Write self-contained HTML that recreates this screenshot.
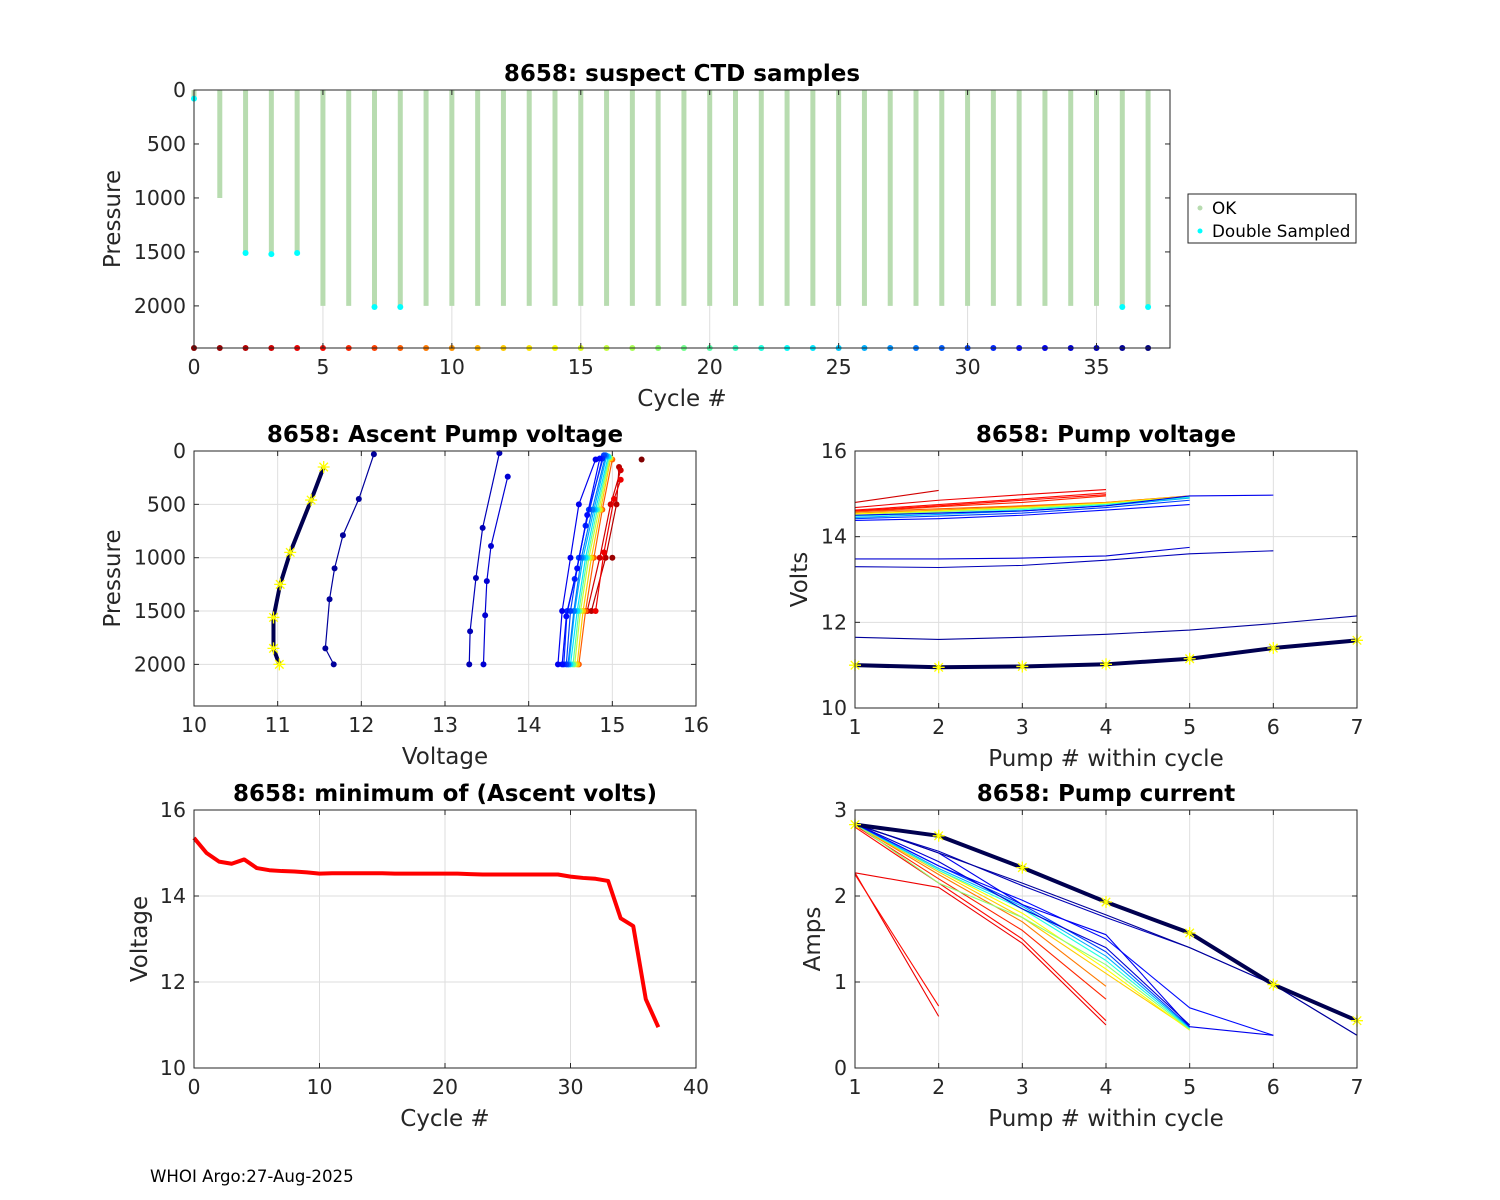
<!DOCTYPE html>
<html><head><meta charset="utf-8">
<style>
html,body{margin:0;padding:0;background:#fff;}
svg{display:block;font-family:"DejaVu Sans","Liberation Sans",sans-serif;}
</style></head>
<body>
<svg id="fig" width="1500" height="1200" viewBox="0 0 1500 1200" xmlns="http://www.w3.org/2000/svg">
<rect width="1500" height="1200" fill="#fff"/>
<text x="150" y="1182" font-size="16.6" fill="#000">WHOI Argo:27-Aug-2025</text>
</svg>
<script>
// ---------- data ----------
const cycles = Array.from({length:38},(_,i)=>i);
const maxPressure = [80,1000,1500,1500,1500,2000,2000,2000,2000,2000,2000,2000,2000,2000,2000,2000,2000,2000,2000,2000,2000,2000,2000,2000,2000,2000,2000,2000,2000,2000,2000,2000,2000,2000,2000,2000,2000,2000];
const doubleCycles = [0,2,3,4,7,8,36,37];
const doublePress = [80,1510,1520,1510,2010,2010,2010,2010];
const minVolts = [15.35,15.0,14.8,14.75,14.85,14.65,14.6,14.58,14.57,14.55,14.52,14.53,14.53,14.53,14.53,14.53,14.52,14.52,14.52,14.52,14.52,14.52,14.51,14.5,14.5,14.5,14.5,14.5,14.5,14.5,14.45,14.42,14.4,14.35,13.48,13.3,11.6,10.95];
const ascentCycles = [0,1,2,3,4,8,12,16,20,24,26,28,30,31,32,33,34,35,36,37];
const ascentPress = [
 [80],[1000],[1500,1000,500,150],[1500,1000,500,180],[1500,950,450,270],
 [2000,1500,1000,550,80],[2000,1500,1000,550,70],[2000,1500,1000,550,60],[2000,1500,1000,550,60],[2000,1500,1000,550,50],
 [2000,1500,1000,550,50],[2000,1500,1000,550,40],[2000,1500,1000,550,40],[2000,1500,1200,700,70],[2000,1550,1100,600,70],[2000,1500,1000,500,80],
 [2000,1540,1220,890,240],[2000,1690,1190,720,20],[2000,1850,1390,1100,790,450,30],[2000,1850,1560,1250,950,460,150]];
const ascentVolts = [
 [15.35],[15.0],[14.75,14.92,15.05,15.08],[14.7,14.85,14.98,15.1],[14.8,14.9,15.02,15.1],
 [14.6,14.68,14.78,14.88,15.0],[14.58,14.65,14.75,14.86,14.98],[14.55,14.62,14.72,14.84,14.97],[14.53,14.6,14.7,14.82,14.96],[14.5,14.58,14.68,14.8,14.95],
 [14.48,14.55,14.65,14.78,14.93],[14.47,14.54,14.63,14.76,14.92],[14.45,14.5,14.6,14.72,14.9],[14.42,14.46,14.55,14.68,14.88],[14.4,14.45,14.58,14.7,14.85],[14.35,14.4,14.5,14.6,14.8],
 [13.46,13.48,13.5,13.55,13.75],[13.29,13.3,13.37,13.45,13.65],[11.67,11.57,11.62,11.68,11.78,11.97,12.15],[11.02,10.95,10.95,11.03,11.15,11.4,11.55]];
const pumpVCycles = [3,4,5,5,6,8,10,14,18,22,26,30,32,33,34,35,36,37];
const pumpVolts = [
 [14.8,15.08],[14.68,14.85,14.98,15.1],[14.62,14.75,14.88,15.02],[14.6,14.72,14.85,14.98],[14.58,14.7,14.8,14.95],
 [14.58,14.65,14.72,14.8,14.95],[14.55,14.62,14.7,14.8,14.95],[14.53,14.6,14.68,14.78,14.94],[14.5,14.58,14.66,14.76,14.93],[14.48,14.55,14.63,14.75,14.92],
 [14.45,14.52,14.6,14.72,14.9],[14.42,14.48,14.55,14.68,14.85],[14.38,14.42,14.5,14.62,14.75],[14.5,14.55,14.6,14.72,14.95,14.97],
 [13.48,13.48,13.5,13.55,13.75],[13.3,13.28,13.33,13.45,13.6,13.67],[11.65,11.6,11.65,11.72,11.82,11.97,12.15],[11.0,10.95,10.97,11.02,11.15,11.4,11.58]];
const pumpICycles = [4,5,4,5,6,9,12,14,18,22,26,30,32,33,34,35,36,37];
const pumpAmps = [
 [2.27,0.6],[2.25,0.72],[2.27,2.1,1.45,0.5],[2.8,2.15,1.5,0.55],[2.82,2.2,1.6,0.8],
 [2.83,2.25,1.7,0.95],[2.83,2.28,1.75,1.1,0.45],[2.84,2.3,1.8,1.15,0.44],[2.84,2.15,1.75,1.2,0.45],[2.84,2.3,1.85,1.25,0.46],
 [2.84,2.32,1.88,1.3,0.47],[2.84,2.35,1.9,1.35,0.48],[2.84,2.35,1.95,1.5,0.7,0.38],[2.84,2.5,1.9,1.55,0.48,0.38],
 [2.84,2.4,1.85,1.4,0.5],[2.83,2.52,2.12,1.75,1.4,0.97,0.38],[2.84,2.5,2.15,1.78,1.4,0.97,0.38],[2.83,2.7,2.33,1.93,1.57,0.97,0.55]];
const topXTicks=[0,5,10,15,20,25,30,35];
const topYTicks=[0,500,1000,1500,2000];

// ---------- helpers ----------
const NS="http://www.w3.org/2000/svg";
const svg=document.getElementById('fig');
function el(tag,attrs,parent){const e=document.createElementNS(NS,tag);for(const k in attrs)e.setAttribute(k,attrs[k]);(parent||svg).appendChild(e);return e;}
function jet(c){const t=1-c/37;const f=v=>Math.max(0,Math.min(1,v));
 const r=f(1.5-Math.abs(4*t-3)),g=f(1.5-Math.abs(4*t-2)),b=f(1.5-Math.abs(4*t-1));
 return `rgb(${Math.round(r*255)},${Math.round(g*255)},${Math.round(b*255)})`;}
function makeAxes(name,x0,y0,x1,y1,xmin,xmax,ymin,ymax,rev,xt,yt,grid,ygrid,title,xl,yl,yoff){
 const g=el('g',{});
 
 
 const sx=v=>x0+(v-xmin)/(xmax-xmin)*(x1-x0);
 const sy=rev? v=>y0+(v-ymin)/(ymax-ymin)*(y1-y0) : v=>y1-(v-ymin)/(ymax-ymin)*(y1-y0);
 el('rect',{x:x0,y:y0,width:x1-x0,height:y1-y0,fill:'#fff'},g);
 const gg=el('g',{},g);
 if(grid) xt.forEach(v=>el('line',{x1:sx(v),x2:sx(v),y1:y0,y2:y1,stroke:'#dedede','stroke-width':1},gg));
 if(ygrid) yt.forEach(v=>el('line',{x1:x0,x2:x1,y1:sy(v),y2:sy(v),stroke:'#dedede','stroke-width':1},gg));
 const data=el('g',{},g);
 const fr=el('g',{},g);
 el('rect',{x:x0,y:y0,width:x1-x0,height:y1-y0,fill:'none',stroke:'#262626','stroke-width':1},fr);
 xt.forEach(v=>{el('line',{x1:sx(v),x2:sx(v),y1:y1,y2:y1-5,stroke:'#262626'},fr);el('line',{x1:sx(v),x2:sx(v),y1:y0,y2:y0+5,stroke:'#262626'},fr);
  const t=el('text',{x:sx(v),y:y1+26,'font-size':20.5,'text-anchor':'middle',fill:'#262626'},fr);t.textContent=v;
  
  });
 yt.forEach(v=>{el('line',{x1:x0,x2:x0+5,y1:sy(v),y2:sy(v),stroke:'#262626'},fr);el('line',{x1:x1,x2:x1-5,y1:sy(v),y2:sy(v),stroke:'#262626'},fr);
  const t=el('text',{x:x0-8,y:sy(v)+7,'font-size':20.5,'text-anchor':'end',fill:'#262626'},fr);t.textContent=v;
  
  });
 let t=el('text',{x:(x0+x1)/2,y:y0-9,'font-size':23,'font-weight':'bold','text-anchor':'middle',fill:'#000'},fr);t.textContent=title;
 
 
 t=el('text',{x:(x0+x1)/2,y:y1+58,'font-size':23,'text-anchor':'middle',fill:'#262626'},fr);t.textContent=xl;
 
 
 const cy=(y0+y1)/2, cx=x0-yoff;
 t=el('text',{x:cx,y:cy,'font-size':23,'text-anchor':'middle',fill:'#262626',transform:`rotate(-90 ${cx} ${cy})`},fr);t.textContent=yl;
 
 
 return {sx,sy,g:data};
}
function star(g,x,y,r){const p=[];for(let i=0;i<4;i++){const a=i*Math.PI/4;p.push(`M${x-r*Math.cos(a)},${y-r*Math.sin(a)}L${x+r*Math.cos(a)},${y+r*Math.sin(a)}`);}
 const s=el('path',{d:p.join(''),stroke:'#ffff00','stroke-width':1.3,fill:'none'},g);
 
 }
function poly(g,pts,color,w){return el('polyline',{points:pts.map(p=>p.join(',')).join(' '),fill:'none',stroke:color,'stroke-width':w,'stroke-linejoin':'round'},g);}

// ---------- top ----------
{const A=makeAxes('suspect-ctd-chart',194,90,1170,348,0,37.85,0,2390,true,topXTicks,topYTicks,true,false,'8658: suspect CTD samples','Cycle #','Pressure',74);
 cycles.forEach((c,i)=>{const b=el('line',{x1:A.sx(c),x2:A.sx(c),y1:A.sy(0),y2:A.sy(maxPressure[i]),stroke:'#b8dcb0','stroke-width':5},A.g);
  
  });
 doubleCycles.forEach((c,i)=>{const d=el('circle',{cx:A.sx(c),cy:A.sy(doublePress[i]),r:3,fill:'#00ffff'},A.g);
  
  });
 cycles.forEach(c=>{const d=el('circle',{cx:A.sx(c),cy:A.sy(2390),r:3,fill:jet(c)},A.g);
  
  });
 const lg=el('g',{});
 
 
 el('rect',{x:1188,y:194,width:168,height:49,fill:'#fff',stroke:'#262626'},lg);
 el('circle',{cx:1200,cy:208,r:2.5,fill:'#b8dcb0'},lg);
 el('circle',{cx:1200,cy:231,r:2.5,fill:'#00ffff'},lg);
 let t=el('text',{x:1212,y:214,'font-size':16.8,fill:'#000'},lg);t.textContent='OK';
 
 
 t=el('text',{x:1212,y:237,'font-size':16.8,fill:'#000'},lg);t.textContent='Double Sampled';
 
 
}
// ---------- ascent pump voltage ----------
{const A=makeAxes('ascent-pump-voltage-chart',194,451,696,706,10,16,0,2390,true,[10,11,12,13,14,15,16],[0,500,1000,1500,2000],true,true,'8658: Ascent Pump voltage','Voltage','Pressure',74);
 ascentCycles.forEach((c,i)=>{const pts=ascentPress[i].map((p,j)=>[A.sx(ascentVolts[i][j]),A.sy(p)]);const col=jet(c);
  const thick=c===37;
  const l=poly(A.g,pts,thick?'#000050':col,thick?4:1.2);
  
  
  pts.forEach(p=>{if(thick)star(A.g,p[0],p[1],6);else{const d=el('circle',{cx:p[0],cy:p[1],r:3,fill:col},A.g);
   
   }});});
}
// ---------- pump voltage ----------
{const A=makeAxes('pump-voltage-chart',855,451,1357,708,1,7,10,16,false,[1,2,3,4,5,6,7],[10,12,14,16],true,true,'8658: Pump voltage','Pump # within cycle','Volts',48);
 pumpVCycles.forEach((c,i)=>{const pts=pumpVolts[i].map((v,j)=>[A.sx(j+1),A.sy(v)]);const thick=c===37;
  const l=poly(A.g,pts,thick?'#000050':jet(c),thick?4:1.1);
  
  
  if(thick)pts.forEach(p=>star(A.g,p[0],p[1],6));});
}
// ---------- minimum ascent volts ----------
{const A=makeAxes('minimum-ascent-volts-chart',194,810,696,1068,0,40,10,16,false,[0,10,20,30,40],[10,12,14,16],true,true,'8658: minimum of (Ascent volts)','Cycle #','Voltage',47);
 const l=poly(A.g,cycles.map((c,i)=>[A.sx(c),A.sy(minVolts[i])]),'#ff0000',4);
 
 
}
// ---------- pump current ----------
{const A=makeAxes('pump-current-chart',855,810,1357,1068,1,7,0,3,false,[1,2,3,4,5,6,7],[0,1,2,3],true,true,'8658: Pump current','Pump # within cycle','Amps',35);
 pumpICycles.forEach((c,i)=>{const pts=pumpAmps[i].map((v,j)=>[A.sx(j+1),A.sy(v)]);const thick=c===37;
  const l=poly(A.g,pts,thick?'#000050':jet(c),thick?4:1.1);
  
  
  if(thick)pts.forEach(p=>star(A.g,p[0],p[1],6));});
}
</script>
</body></html>
